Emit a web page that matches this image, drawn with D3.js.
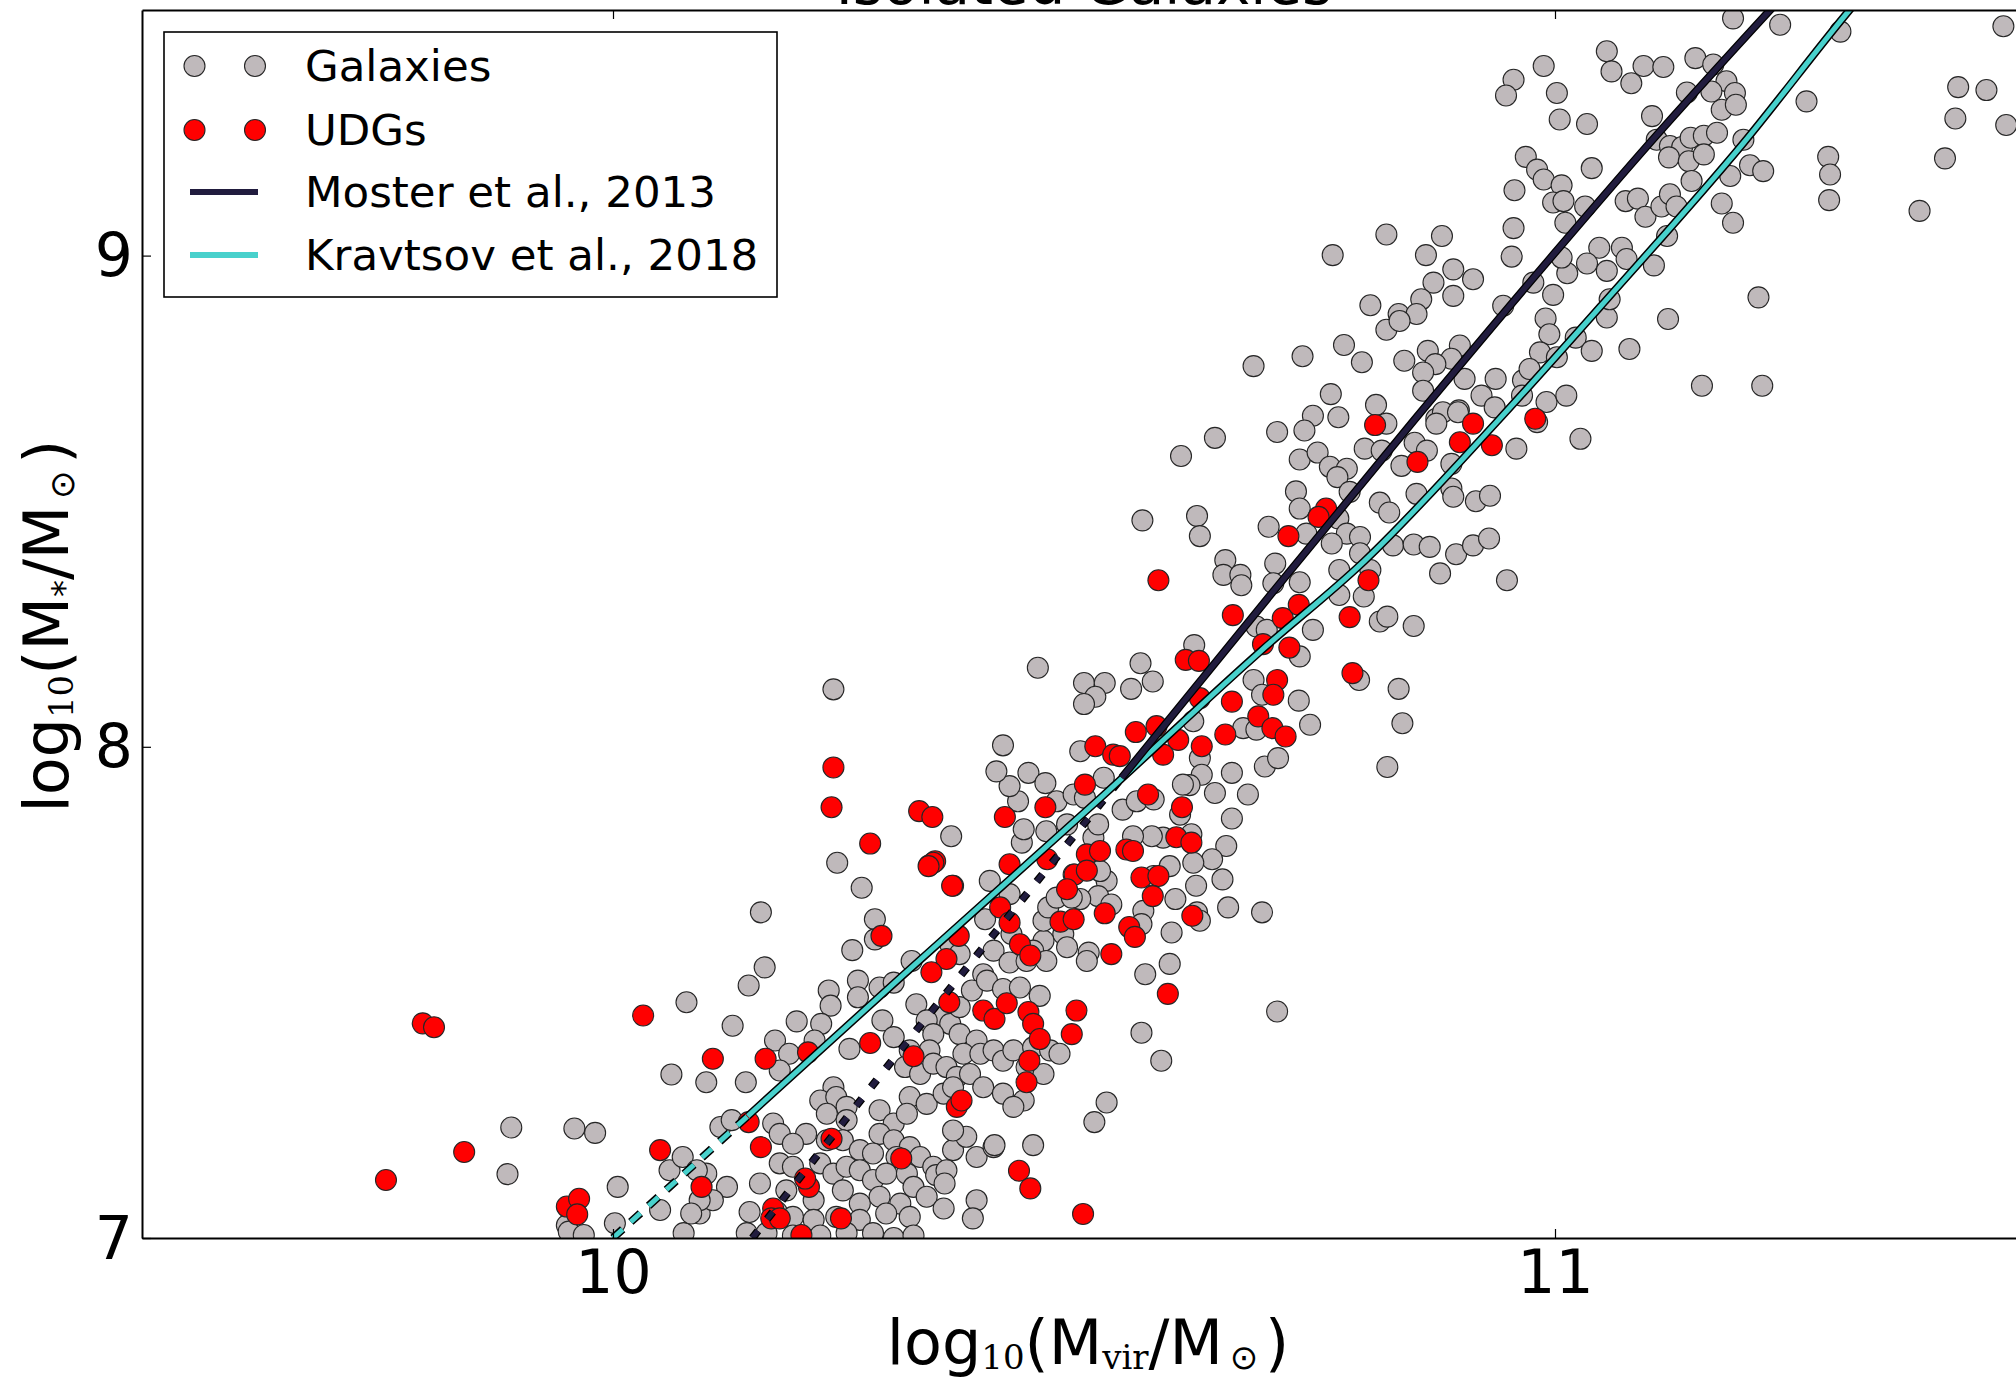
<!DOCTYPE html>
<html><head><meta charset="utf-8">
<script src="https://cdnjs.cloudflare.com/ajax/libs/d3/7.8.5/d3.min.js"></script>
<style>
body{margin:0;background:#fff}
svg{display:block}
text{font-family:"DejaVu Sans",sans-serif;fill:#000}
</style>
</head><body>
<svg id="c" width="2016" height="1381"></svg>
<script>
// ---------------- data (log10 Mvir, log10 M*) ----------------
const title = "Isolated Galaxies";
const xTicks = [10, 11];
const yTicks = [7, 8, 9];
const legendLabels = ["Galaxies", "UDGs", "Moster et al., 2013", "Kravtsov et al., 2018"];

const galaxies = [
[11.189,9.483],[11.239,9.470],[11.303,9.456],[11.055,9.416],[10.988,9.386],[10.956,9.358],[10.948,9.326],[11.060,9.375],[11.094,9.386],[11.115,9.384],[11.081,9.351],[11.149,9.402],[11.168,9.389],[11.182,9.355],[11.191,9.331],[11.177,9.297],[11.192,9.307],[11.166,9.334],[11.140,9.332],[11.103,9.284],[11.002,9.331],[11.005,9.277],[11.034,9.268],[11.267,9.314],[11.428,9.343],[11.425,9.279],[11.414,9.198],[11.290,9.201],[11.292,9.165],[11.291,9.113],[11.387,9.091],[10.969,9.201],[10.981,9.175],[10.988,9.155],[11.007,9.143],[10.998,9.108],[11.009,9.111],[11.011,9.067],[10.957,9.133],[10.956,9.056],[10.954,8.998],[11.039,9.178],[11.032,9.100],[11.075,9.111],[11.088,9.116],[11.096,9.079],[11.113,9.100],[11.122,9.125],[11.129,9.100],[11.119,9.040],[11.108,9.236],[11.122,9.223],[11.135,9.221],[11.144,9.240],[11.158,9.244],[11.172,9.250],[11.121,9.200],[11.142,9.192],[11.158,9.206],[11.145,9.152],[11.186,9.162],[11.207,9.184],[11.221,9.172],[11.200,9.236],[11.177,9.106],[11.189,9.067],[11.047,9.016],[11.071,9.016],[11.076,8.993],[11.034,8.984],[11.055,8.969],[11.013,8.964],[11.105,8.980],[11.007,8.996],[10.977,8.945],[10.998,8.920],[10.990,8.872],[10.994,8.840],[10.984,8.803],[11.002,8.793],[11.022,8.833],[11.039,8.806],[11.079,8.810],[11.055,8.874],[11.058,8.911],[10.945,8.898],[10.913,8.952],[10.892,8.972],[10.892,8.918],[10.899,8.817],[10.890,8.790],[10.904,8.749],[10.937,8.749],[10.922,8.715],[10.936,8.691],[10.966,8.746],[10.973,8.769],[10.965,8.715],[10.991,8.702],[11.012,8.715],[10.898,8.685],[11.120,8.871],[11.216,8.915],[11.156,8.735],[11.220,8.735],
[11.476,9.467],[11.458,9.337],[11.479,9.266],
[10.821,9.043],[10.880,9.040],[10.764,9.001],[10.863,9.001],[10.871,8.945],[10.858,8.911],[10.804,8.899],[10.834,8.881],[10.853,8.881],[10.821,8.849],[10.835,8.867],[10.776,8.818],[10.732,8.795],[10.680,8.775],[10.795,8.783],[10.840,8.786],[10.865,8.806],[10.873,8.779],[10.860,8.762],[10.860,8.725],[10.762,8.718],[10.810,8.696],[10.821,8.658],[10.743,8.674],[10.770,8.671],[10.705,8.641],[10.734,8.644],[10.639,8.629],[10.603,8.592],[10.729,8.585],[10.748,8.599],[10.761,8.570],[10.779,8.566],[10.769,8.549],[10.798,8.607],[10.816,8.603],[10.851,8.619],[10.864,8.603],[10.874,8.668],[10.881,8.681],[10.897,8.681],[10.874,8.658],[10.837,8.572],[10.890,8.576],[10.959,8.607],[11.027,8.627],[10.981,8.661],[10.725,8.520],[10.729,8.485],[10.696,8.448],[10.620,8.470],[10.623,8.429],[10.562,8.461],[10.650,8.380],[10.648,8.350],[10.666,8.350],[10.667,8.329],[10.703,8.373],[10.729,8.335],[10.701,8.333],[10.770,8.465],[10.779,8.434],[10.793,8.427],[10.763,8.414],[10.736,8.434],[10.782,8.519],[10.814,8.497],[10.824,8.477],[10.853,8.515],[10.890,8.526],[10.892,8.509],[10.916,8.500],[10.931,8.511],[10.828,8.410],[10.850,8.412],[10.867,8.407],[10.895,8.392],[10.913,8.410],[10.930,8.424],[10.878,8.353],[10.949,8.339],[10.793,8.394],[10.804,8.360],[10.771,8.360],[10.771,8.309],[10.797,8.306],[10.683,8.245],[10.694,8.238],[10.743,8.238],[10.814,8.255],[10.822,8.265],[10.850,8.246],[10.617,8.207],
[10.451,8.161],[10.560,8.170],[10.500,8.130],[10.522,8.130],[10.550,8.118],[10.573,8.133],[10.512,8.102],[10.500,8.087],[10.680,8.136],[10.729,8.184],[10.728,8.094],[10.740,8.045],[10.792,8.136],[10.834,8.118],[10.838,8.048],[10.822,7.959],[10.689,8.106],[10.669,8.038],[10.683,8.035],[10.616,8.052],[10.623,7.977],[10.625,7.943],[10.657,7.947],[10.674,7.903],[10.639,7.906],[10.612,7.922],[10.692,7.960],[10.706,7.977],[10.657,7.854],[10.689,7.663],[10.653,7.673],[10.651,7.798],[10.636,7.771],[10.647,7.730],[10.619,7.717],[10.616,7.764],[10.620,7.663],[10.597,7.690],[10.602,7.862],[10.614,7.822],[10.584,7.815],[10.572,7.818],[10.552,7.818],[10.591,7.757],[10.574,7.737],[10.524,7.727],[10.515,7.696],[10.496,7.690],[10.529,7.679],[10.563,7.666],[10.561,7.639],[10.593,7.622],[10.623,7.646],[10.591,7.558],[10.565,7.537],[10.505,7.581],[10.478,7.619],[10.482,7.592],[10.457,7.605],[10.457,7.646],[10.462,7.673],[10.471,7.693],[10.487,7.693],[10.489,7.740],[10.517,7.747],[10.510,7.815],[10.515,7.842],[10.482,7.842],[10.460,7.828],[10.471,7.889],[10.489,7.903],[10.501,7.896],[10.541,7.872],[10.556,7.889],[10.574,7.893],[10.521,7.937],[10.605,7.923],[10.434,7.805],[10.436,7.832],[10.430,7.889],[10.421,7.920],[10.407,7.950],[10.441,7.947],[10.459,7.926],[10.414,8.003],[10.359,7.818],[10.496,7.991],[10.400,7.727],[10.421,7.700],[10.446,7.585],[10.423,7.619],[10.395,7.649],[10.358,7.598],[10.368,7.578],[10.404,7.585],[10.421,7.561],[10.439,7.564],[10.460,7.564],[10.503,7.564],[10.317,7.564],[10.393,7.537],
[10.238,7.764],[10.264,7.713],[10.157,7.663],[10.278,7.649],[10.278,7.608],[10.254,7.586],[10.161,7.551],[10.144,7.514],[10.078,7.480],[10.127,7.432],[10.195,7.441],[10.229,7.504],[10.231,7.473],[10.260,7.524],[10.260,7.490],[10.283,7.510],[10.298,7.520],[10.221,7.436],[10.172,7.402],[10.187,7.375],[10.214,7.402],[10.177,7.341],[10.062,7.333],[10.099,7.317],[10.141,7.317],[10.251,7.385],[10.286,7.443],[10.298,7.409],[10.322,7.476],[10.347,7.449],[10.358,7.436],[10.368,7.470],[10.381,7.504],[10.397,7.524],[10.414,7.507],[10.432,7.510],[10.453,7.493],[10.333,7.443],[10.340,7.415],[10.368,7.415],[10.386,7.402],[10.372,7.375],[10.336,7.382],[10.315,7.382],[10.310,7.348],[10.326,7.334],[10.340,7.355],[10.354,7.348],[10.365,7.328],[10.379,7.334],[10.390,7.375],[10.404,7.382],[10.414,7.361],[10.425,7.382],[10.446,7.388],[10.464,7.382],[10.439,7.348],[10.457,7.334],[10.474,7.375],[10.393,7.307],[10.414,7.294],[10.436,7.280],[10.425,7.267],[10.315,7.287],[10.333,7.273],[10.351,7.294],[10.361,7.307],[10.283,7.260],[10.298,7.233],[10.312,7.253],[10.283,7.212],[10.298,7.199],[10.315,7.185],[10.301,7.165],[10.326,7.165],[10.340,7.145],[10.361,7.179],[10.375,7.206],[10.361,7.219],[10.386,7.165],[10.404,7.185],[10.343,7.128],[10.354,7.138],[10.234,7.307],[10.220,7.280],[10.237,7.287],[10.248,7.267],[10.227,7.253],[10.248,7.240],[10.205,7.212],[10.227,7.199],[10.244,7.199],[10.262,7.179],[10.276,7.172],[10.170,7.233],[10.177,7.212],[10.191,7.192],[10.177,7.152],[10.191,7.145],[10.220,7.152],[10.234,7.131],[10.248,7.145],[10.262,7.138],[10.276,7.118],[10.290,7.131],[10.312,7.131],[10.156,7.111],[10.184,7.097],[10.213,7.077],[10.244,7.097],[10.262,7.070],[10.283,7.084],[10.305,7.070],[10.319,7.104],[10.333,7.084],[10.145,7.053],[10.174,7.053],[10.191,7.043],[10.213,7.037],[10.237,7.043],[10.262,7.037],[10.290,7.050],[10.315,7.043],[10.351,7.060],[10.386,7.077],[10.382,7.040],[10.405,7.189],[10.446,7.189],[10.352,7.111],[10.142,7.010],[10.163,7.010],[10.191,7.005],[10.220,7.005],[10.248,7.010],[10.276,7.010],[10.298,7.000],[10.319,7.005],[10.092,7.050],[10.099,7.131],[10.121,7.104],[10.106,7.077],[10.092,7.077],[10.075,7.010],[10.083,7.050],[10.060,7.138],[10.074,7.165],[10.089,7.138],[10.050,7.057],[10.114,7.226],[10.126,7.240],
[9.892,7.225],[9.959,7.223],[9.981,7.214],[9.888,7.130],[10.005,7.104],[10.002,7.030],[9.951,7.026],[9.953,7.013],[9.969,7.006],
[10.234,8.117],[10.524,7.276],[10.511,7.236],[10.561,7.418],[10.582,7.361],[10.705,7.461]
];

const udgs = [
[10.913,8.658],[10.979,8.668],[10.809,8.655],[10.854,8.580],[10.899,8.620],[10.933,8.614],[10.757,8.485],[10.749,8.468],[10.717,8.429],[10.579,8.339],[10.802,8.339],[10.658,8.268],[10.711,8.262],[10.728,8.289],[10.782,8.264],[10.690,8.209],[10.718,8.202],
[10.785,8.150],[10.705,8.136],[10.701,8.106],[10.608,8.177],[10.622,8.175],[10.657,8.092],[10.685,8.062],[10.700,8.038],[10.714,8.021],[10.650,8.025],[10.625,8.001],[10.577,8.042],[10.555,8.030],[10.512,8.001],[10.531,7.984],[10.538,7.981],[10.584,7.984],[10.600,8.014],[10.623,8.099],[10.501,7.923],[10.568,7.903],[10.604,7.877],[10.459,7.877],[10.416,7.857],[10.325,7.869],[10.339,7.857],[10.336,7.759],[10.342,7.767],[10.361,7.717],[10.421,7.761],[10.461,7.771],[10.503,7.781],[10.517,7.788],[10.490,7.740],[10.503,7.748],[10.482,7.710],[10.545,7.791],[10.552,7.788],[10.598,7.816],[10.614,7.805],[10.561,7.734],[10.579,7.737],[10.573,7.696],[10.522,7.661],[10.475,7.644],[10.489,7.649],[10.615,7.656],[10.548,7.633],[10.554,7.613],[10.411,7.673],[10.421,7.642],[10.432,7.598],[10.443,7.575],[10.367,7.615],[10.354,7.568],[10.338,7.541],[10.529,7.578],
[10.273,7.803],[10.340,7.764],[10.335,7.757],[10.360,7.717],[10.285,7.615],[10.032,7.453],[10.106,7.365],[10.162,7.365],[10.207,7.378],[10.273,7.397],[10.319,7.370],[10.357,7.480],[10.393,7.463],[10.405,7.446],[10.418,7.478],[10.441,7.460],[10.446,7.436],[10.453,7.405],[10.442,7.361],[10.439,7.317],[10.492,7.463],[10.487,7.415],[10.365,7.267],[10.370,7.280],[10.144,7.236],[10.050,7.179],[10.094,7.104],[10.157,7.185],[10.232,7.202],[10.208,7.104],[10.204,7.121],[10.306,7.162],[10.431,7.137],[10.443,7.101],[10.170,7.060],[10.168,7.040],[10.177,7.040],[10.242,7.040],[10.200,7.006],
[9.798,7.437],[9.810,7.429],[9.842,7.175],[9.759,7.118],[9.951,7.064],[9.964,7.080],[9.962,7.048],
[10.234,7.958],[10.232,7.877],[10.589,7.497],[10.499,7.049]
];

// Moster et al. 2013 relation (dashed below, solid above)
const mosterDashed = [[10.148,7.0],[10.3,7.37],[10.45,7.726],[10.54,7.937]];
const mosterSolid  = [[10.54,7.937],[10.7,8.314],[10.85,8.664],[11.0,9.006],[11.1,9.228],[11.25,9.545]];
// Kravtsov et al. 2018 relation
const kravDashed = [[10.0,7.0],[10.143,7.248]];
const kravSolid  = [[10.143,7.248],[10.305,7.53],[10.517,7.895],[10.687,8.194],[10.797,8.377],[10.938,8.661],[11.055,8.911],[11.2,9.229],[11.308,9.489],[11.33,9.54]];

// ---------------- layout ----------------
const L = 142, T = 10, R = 2026, B = 1238;
const x = d3.scaleLinear().domain([9.5, 11.5]).range([L, R]);
const y = d3.scaleLinear().domain([7, 9.5]).range([B, T]);

const svg = d3.select("#c");
svg.append("rect").attr("width", 2016).attr("height", 1381).attr("fill", "#fff");
svg.append("defs").append("clipPath").attr("id", "clip")
  .append("rect").attr("x", L).attr("y", T).attr("width", R - L).attr("height", B - T);

const plot = svg.append("g").attr("clip-path", "url(#clip)");

const GRAY = "#bfb9bb", RED = "#ff0000", EDGE = "#262626";
const MOSTER = "#211c3e", KRAV = "#48d1cc";

plot.append("g").selectAll("circle").data(galaxies).join("circle")
  .attr("cx", d => x(d[0])).attr("cy", d => y(d[1])).attr("r", 10.5)
  .attr("fill", GRAY).attr("stroke", EDGE).attr("stroke-width", 1.1);
plot.append("g").selectAll("circle").data(udgs).join("circle")
  .attr("cx", d => x(d[0])).attr("cy", d => y(d[1])).attr("r", 10.5)
  .attr("fill", RED).attr("stroke", EDGE).attr("stroke-width", 1.1);

const line = d3.line().x(d => x(d[0])).y(d => y(d[1])).curve(d3.curveMonotoneX);
function drawLine(data, color, dash, wOuter, wInner) {
  const g = plot.append("g");
  g.append("path").attr("d", line(data)).attr("fill", "none")
    .attr("stroke", "#000").attr("stroke-width", wOuter).attr("stroke-dasharray", dash);
  g.append("path").attr("d", line(data)).attr("fill", "none")
    .attr("stroke", color).attr("stroke-width", wInner).attr("stroke-dasharray", dash);
}
drawLine(kravDashed, KRAV, "13,11", 8, 5);
drawLine(mosterDashed, MOSTER, "9,15", 8, 5.5);
drawLine(kravSolid, KRAV, null, 8, 5);
drawLine(mosterSolid, MOSTER, null, 8, 5.5);

// ---------------- axes ----------------
function styleAxis(g) {
  g.select(".domain").attr("stroke", "#000").attr("stroke-width", 2);
  g.selectAll(".tick line").attr("stroke", "#000").attr("stroke-width", 1.2);
  g.selectAll(".tick text").attr("font-family", "DejaVu Sans").attr("font-size", 60).attr("fill", "#000");
}
const gx = svg.append("g").attr("transform", `translate(0,${B})`)
  .call(d3.axisBottom(x).tickValues(xTicks).tickFormat(d3.format("d")).tickSize(-9).tickSizeOuter(0).tickPadding(10));
styleAxis(gx);
gx.selectAll(".tick text").attr("y", 55).attr("dy", 0);

const gxt = svg.append("g").attr("transform", `translate(0,${T})`)
  .call(d3.axisTop(x).tickValues(xTicks).tickFormat("").tickSize(-9).tickSizeOuter(0));
styleAxis(gxt);

const gy = svg.append("g").attr("transform", `translate(${L},0)`)
  .call(d3.axisLeft(y).tickValues(yTicks).tickFormat(d3.format("d")).tickSize(-9).tickSizeOuter(0).tickPadding(9));
styleAxis(gy);
gy.selectAll(".tick text").attr("dy", 20);

const gyr = svg.append("g").attr("transform", `translate(${R},0)`)
  .call(d3.axisRight(y).tickValues(yTicks).tickFormat("").tickSize(-9).tickSizeOuter(0));
styleAxis(gyr);

// ---------------- title (mostly cut off at the top, as in the reference) ----------------
svg.append("text").attr("x", (L + R) / 2).attr("y", 4).attr("text-anchor", "middle")
  .attr("font-size", 58).text(title);

// ---------------- axis labels ----------------
function subLabel(t, parts) {
  parts.forEach(p => {
    const s = t.append("tspan").text(p.t);
    if (p.sub) s.attr("font-size", 34).attr("font-family", p.serif ? "DejaVu Serif" : "DejaVu Sans").attr("dy", p.dy);
    else if (p.dy) s.attr("dy", p.dy);
  });
}
const xl = svg.append("text").attr("x", 1088).attr("y", 1364).attr("text-anchor", "middle").attr("font-size", 62);
subLabel(xl, [
  {t: "log"}, {t: "10", sub: true, serif: true, dy: 5}, {t: "(M", dy: -5},
  {t: "vir", sub: true, serif: true, dy: 5}, {t: "/M", dy: -5},
  {t: "\u2009\u2299\u2009", sub: true, dy: 5}, {t: ")", dy: -5}
]);
const yl = svg.append("text").attr("transform", "translate(68,626) rotate(-90)")
  .attr("text-anchor", "middle").attr("font-size", 62);
subLabel(yl, [
  {t: "log"}, {t: "10", sub: true, serif: true, dy: 5}, {t: "(M", dy: -5},
  {t: "*", sub: true, dy: 8}, {t: "/M", dy: -8},
  {t: "\u2009\u2299\u2009", sub: true, dy: 6}, {t: ")", dy: -6}
]);

// ---------------- legend ----------------
const lg = svg.append("g");
lg.append("rect").attr("x", 164).attr("y", 32).attr("width", 613).attr("height", 265)
  .attr("fill", "#fff").attr("stroke", "#000").attr("stroke-width", 1.6);
const rowY = [66, 130, 192, 255];
const markerX = [194.5, 255];
[GRAY, RED].forEach((c, i) => {
  markerX.forEach(mx => lg.append("circle").attr("cx", mx).attr("cy", rowY[i]).attr("r", 10.5)
    .attr("fill", c).attr("stroke", EDGE).attr("stroke-width", 1.1));
});
[MOSTER, KRAV].forEach((c, i) => {
  lg.append("line").attr("x1", 190).attr("x2", 258).attr("y1", rowY[i + 2]).attr("y2", rowY[i + 2])
    .attr("stroke", c).attr("stroke-width", 6);
});
legendLabels.forEach((s, i) => {
  lg.append("text").attr("x", 305).attr("y", rowY[i] + 15).attr("font-size", 43.5).text(s);
});
</script>
</body></html>
